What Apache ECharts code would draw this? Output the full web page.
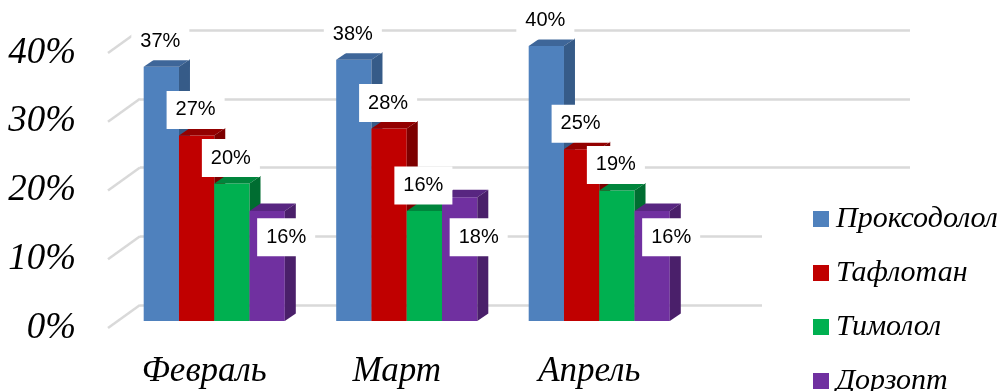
<!DOCTYPE html>
<html>
<head>
    <meta charset="utf-8">
    <title>ECharts</title>
    <script src="https://cdn.jsdelivr.net/npm/echarts@6/dist/echarts.min.js"></script>
</head>
<body style="margin:0">
    <div id="container" style="width:1000px;height:391px;"></div>
    <script type="text/javascript">
        // данные
        var months = ['Февраль', 'Март', 'Апрель'];
        var drugs = ['Проксодолол', 'Тафлотан', 'Тимолол', 'Дорзопт'];
        var proksodolol = [37, 38, 40];
        var taflotan = [27, 28, 25];
        var timolol = [20, 16, 19];
        var dorzopt = [16, 18, 16];
        var yTicks = [0, 10, 20, 30, 40];

        var values = [proksodolol, taflotan, timolol, dorzopt];
        // цвета: лицевая грань, верх, бок
        var faces = [
            ['#4f81bd', '#3e6699', '#365b88'],
            ['#c00000', '#930000', '#7d0000'],
            ['#00b050', '#00853c', '#006d31'],
            ['#7030a0', '#582681', '#4a1f6a']
        ];
        var serif = "'Liberation Serif', 'Times New Roman', serif";
        var DX = 11, DY = 7.5;      // глубина столбика
        var groupShare = 0.733;     // доля ширины категории под группу
        var purpleLabelAt = 12.2;   // подписи Дорзопт сдвинуты вручную (как в Excel)

        var myChart = echarts.init(document.getElementById('container'));

        function barSeries(si) {
            return {
                name: drugs[si],
                type: 'custom',
                xAxisIndex: 2,
                yAxisIndex: 2,
                itemStyle: { color: faces[si][0] },
                data: values[si].map(function (v, i) { return [i, v]; }),
                renderItem: function (params, api) {
                    var idx = api.value(0), val = api.value(1);
                    var c = api.coord([idx, val]);
                    var base = api.coord([idx, 0])[1];
                    var band = api.size([1, 0])[0];
                    var gw = band * groupShare, bw = gw / 4;
                    var x = c[0] - gw / 2 + si * bw;
                    var top = c[1];
                    var lx, ly;
                    if (si === 3) {
                        lx = x + bw / 2 + 19;
                        ly = api.coord([idx, purpleLabelAt])[1];
                    } else {
                        lx = x + bw / 2 - 1;
                        ly = top - 25.5;
                    }
                    return {
                        type: 'group',
                        children: [
                            {
                                type: 'rect', z2: si * 10 + 1,
                                shape: { x: x, y: top, width: bw, height: base - top },
                                style: { fill: faces[si][0] }
                            },
                            {
                                type: 'polygon', z2: si * 10 + 2,
                                shape: { points: [[x, top], [x + DX, top - DY], [x + bw + DX, top - DY], [x + bw, top]] },
                                style: { fill: faces[si][1] }
                            },
                            {
                                type: 'polygon', z2: si * 10 + 2,
                                shape: { points: [[x + bw, top], [x + bw + DX, top - DY], [x + bw + DX, base - DY], [x + bw, base]] },
                                style: { fill: faces[si][2] }
                            },
                            {
                                type: 'text', z2: 100,
                                x: lx, y: ly,
                                style: {
                                    text: val + '%',
                                    fill: '#000',
                                    font: "20px 'Liberation Sans', Arial, sans-serif",
                                    align: 'center',
                                    verticalAlign: 'middle',
                                    backgroundColor: '#fff',
                                    padding: [9, 9, 9, 9]
                                }
                            }
                        ]
                    };
                }
            };
        }

        var option = {
            animation: false,
            backgroundColor: '#fff',
            legend: {
                orient: 'vertical',
                left: 762,
                top: 194,
                height: 240,
                padding: [10, 0, 0, 51],
                backgroundColor: '#fff',
                itemWidth: 16,
                itemHeight: 16,
                itemGap: 24,
                icon: 'rect',
                data: drugs,
                textStyle: {
                    fontFamily: serif,
                    fontStyle: 'italic',
                    fontSize: 30,
                    color: '#000',
                    padding: [0, 0, 0, 2]
                }
            },
            grid: [
                { left: 140, top: 30, width: 770, height: 275 },   // задняя стенка
                { left: 108, top: 53, width: 770, height: 275 },   // передний край
                { left: 118, top: 46, width: 770, height: 275 }    // плоскость столбиков
            ],
            xAxis: [
                { gridIndex: 0, type: 'category', data: months.concat(['']), show: false },
                {
                    gridIndex: 1, type: 'category', data: months.concat(['']),
                    axisLine: { show: false }, axisTick: { show: false },
                    axisLabel: {
                        margin: 26,
                        fontFamily: serif, fontStyle: 'italic', fontSize: 35, color: '#000'
                    }
                },
                { gridIndex: 2, type: 'category', data: months.concat(['']), show: false }
            ],
            yAxis: [
                {
                    gridIndex: 0, type: 'value', min: 0, max: 40, interval: 10,
                    axisLabel: { show: false }, axisLine: { show: false }, axisTick: { show: false },
                    splitLine: { lineStyle: { color: '#d9d9d9', width: 2.5 } }
                },
                {
                    gridIndex: 1, type: 'value', min: 0, max: 40, interval: 10,
                    axisLine: { show: false }, axisTick: { show: false }, splitLine: { show: false },
                    axisLabel: {
                        formatter: '{value}%', margin: 32,
                        fontFamily: serif, fontStyle: 'italic', fontSize: 37, color: '#000'
                    }
                },
                { gridIndex: 2, type: 'value', min: 0, max: 40, interval: 10, show: false }
            ],
            series: [
                {
                    // диагональные линии пола/боковой стенки
                    type: 'custom',
                    xAxisIndex: 1,
                    yAxisIndex: 1,
                    silent: true,
                    z: 1,
                    data: yTicks.map(function (t) { return [0, t]; }),
                    renderItem: function (params, api) {
                        var y = api.coord([0, api.value(1)])[1];
                        var cs = params.coordSys;
                        return {
                            type: 'line',
                            shape: { x1: cs.x, y1: y, x2: cs.x + 32, y2: y - 23 },
                            style: { stroke: '#d9d9d9', lineWidth: 2.5 }
                        };
                    }
                }
            ].concat([0, 1, 2, 3].map(barSeries))
        };

        myChart.setOption(option);
    </script>
</body>
</html>
